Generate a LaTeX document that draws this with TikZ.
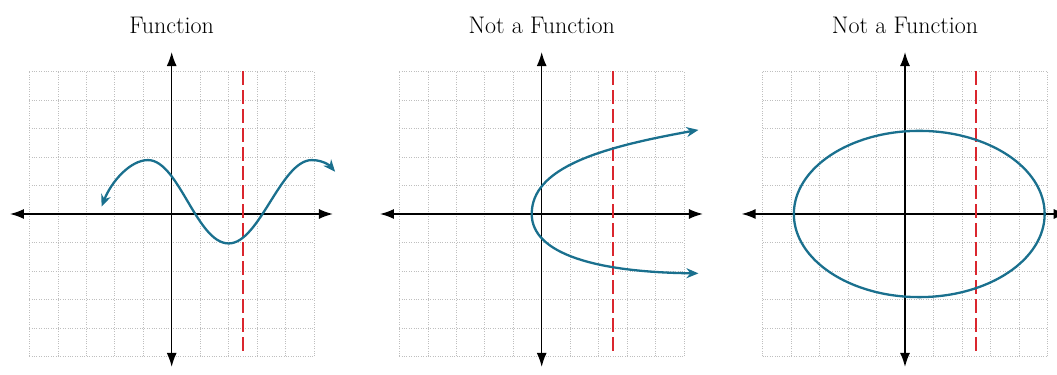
\documentclass[tikz,border=0pt]{standalone}
\usetikzlibrary{arrows.meta}
\definecolor{curveblue}{RGB}{26,112,142}
\definecolor{testred}{RGB}{218,38,46}
\tikzset{
  gridline/.style={draw=gray!50, line width=0.6pt, dash pattern=on 1pt off 1.4pt},
  axis/.style={line width=1.5pt, {Latex[length=14pt,width=10pt]}-{Latex[length=14pt,width=10pt]}},
  graphcurve/.style={draw=curveblue, line width=2.3pt},
  curvetips/.style={{Stealth[length=12pt,width=10pt]}-{Stealth[length=12pt,width=10pt]}},
  vtest/.style={draw=testred, line width=2.3pt, dash pattern=on 14pt off 5pt},
  title/.style={font=\fontsize{24}{28}\selectfont, anchor=base, inner sep=0pt},
}
\begin{document}
\begin{tikzpicture}[x=23.75pt, y=23.75pt]
\useasboundingbox (0,0) rectangle (44.505,15.789);
% ---------- Panel 1: Function ----------
\begin{scope}[shift={(7.229,6.779)}]
  \draw[gridline] (-6,-6) grid (6,6);
  \node[title] (t1) at (0,7.58) {Function};
  \draw[axis] (-6.81,0) -- (6.79,0);
  \draw[axis] (0,-6.44) -- (0,6.82);
  \draw[vtest] (3,6) -- (3,-6);
  \draw[graphcurve, curvetips] (-2.95,0.31)
    .. controls (-2.55,1.35) and (-1.75,2.27) .. (-1,2.27)
    .. controls (0.3,2.27) and (1.05,-1.24) .. (2.4,-1.24)
    .. controls (3.7,-1.24) and (4.6,2.27) .. (5.9,2.27)
    .. controls (6.35,2.27) and (6.65,2.05) .. (6.88,1.78);
\end{scope}
% ---------- Panel 2: Not a Function (parabola) ----------
\begin{scope}[shift={(22.808,6.779)}]
  \draw[gridline] (-6,-6) grid (6,6);
  \node[title] (t2) at (0,7.58) {Not a Function};
  \draw[axis] (-6.81,0) -- (6.79,0);
  \draw[axis] (0,-6.44) -- (0,6.82);
  \draw[vtest] (3,6) -- (3,-6);
  \draw[graphcurve, curvetips] (6.6,-2.5)
    .. controls (2.3,-2.45) and (-0.42,-1.68) .. (-0.42,0)
    .. controls (-0.42,1.96) and (2.5,2.81) .. (6.6,3.54);
\end{scope}
% ---------- Panel 3: Not a Function (ellipse) ----------
\begin{scope}[shift={(38.105,6.779)}]
  \draw[gridline] (-6,-6) grid (6,6);
  \node[title] (t3) at (0,7.58) {Not a Function};
  \draw[axis] (-6.88,0) -- (6.85,0);
  \draw[axis] (0,-6.44) -- (0,6.82);
  \draw[vtest] (3,6) -- (3,-6);
  \draw[graphcurve] (0.6,0) ellipse [x radius=5.28, y radius=3.5];
\end{scope}
\end{tikzpicture}
\end{document}
